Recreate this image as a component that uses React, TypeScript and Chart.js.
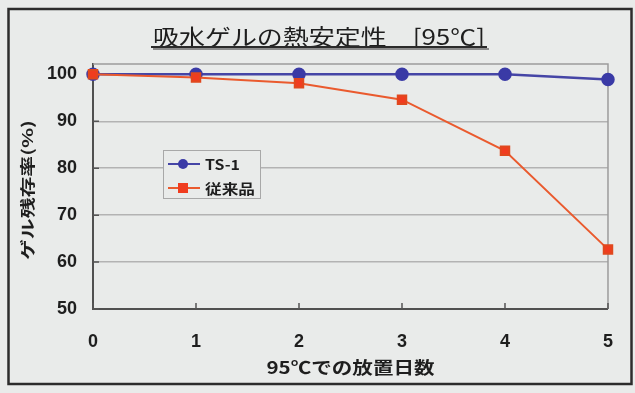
import React, { useEffect, useRef } from "react";
import { Chart, registerables } from "chart.js";

Chart.register(...registerables);

// Days kept at 95℃
const days = [0, 1, 2, 3, 4, 5];
// Remaining gel ratio (%)
const ts1Values = [100, 100, 100, 100, 100, 98.9];
const conventionalValues = [100, 99.3, 98.1, 94.6, 83.7, 62.7];
// Axis ticks
const yTicks = [50, 60, 70, 80, 90, 100];
const xTicks = [0, 1, 2, 3, 4, 5];

const seriesNames = ["TS-1", "従来品"];
const titleText = "吸水ゲルの熱安定性　[95℃]";
const xTitleText = "95℃での放置日数";
const yTitleText = "ゲル残存率(%)";

const BG = "#e9ebea";
const TEXT = "#1e1e1e";
const BLUE_LINE = "#4545a6";
const BLUE_POINT = "#3a3aa6";
const RED_LINE = "#ea5a2e";
const RED_POINT = "#f03c1f";
const JP = "'Noto Sans CJK JP', 'Noto Sans', sans-serif";
const NUM = "'Liberation Sans Narrow', 'Liberation Sans', Arial, sans-serif";

// Draws text centred on (cx, cy), stretched horizontally to the given width.
function fitText(ctx: CanvasRenderingContext2D, text: string, cx: number, cy: number, width: number) {
  const w = ctx.measureText(text).width;
  ctx.save();
  ctx.translate(cx, cy);
  ctx.scale(width / w, 1);
  ctx.textAlign = "center";
  ctx.fillText(text, 0, 0);
  ctx.restore();
}

const decorPlugin = {
  id: "decor",
  beforeDraw(chart: any) {
    const { ctx, width, height } = chart;
    ctx.save();
    ctx.fillStyle = BG;
    ctx.fillRect(0, 0, width, height);
    // outer frame
    ctx.strokeStyle = "#2c2c2c";
    ctx.lineWidth = 2.5;
    ctx.strokeRect(8.5, 9, 623, 375);
    ctx.restore();
  },
  beforeDatasetsDraw(chart: any) {
    const { ctx, chartArea } = chart;
    const xs = chart.scales.x;
    const ys = chart.scales.y;
    ctx.save();
    // plot frame (top and right)
    ctx.strokeStyle = "#9c9c9c";
    ctx.lineWidth = 1.5;
    ctx.beginPath();
    ctx.moveTo(chartArea.left, chartArea.top);
    ctx.lineTo(chartArea.right, chartArea.top);
    ctx.lineTo(chartArea.right, chartArea.bottom);
    ctx.stroke();
    // inner tick marks
    ctx.strokeStyle = "#555";
    ctx.lineWidth = 1.5;
    ctx.beginPath();
    for (const v of xTicks) {
      const px = xs.getPixelForValue(v);
      ctx.moveTo(px, chartArea.bottom);
      ctx.lineTo(px, chartArea.bottom - 6);
    }
    for (const v of yTicks) {
      const py = ys.getPixelForValue(v);
      ctx.moveTo(chartArea.left, py);
      ctx.lineTo(chartArea.left + 6, py);
    }
    ctx.stroke();
    ctx.restore();
  },
  afterDraw(chart: any) {
    const { ctx, chartArea } = chart;
    ctx.save();
    ctx.fillStyle = TEXT;
    ctx.textBaseline = "middle";

    // title with shadowed underline
    ctx.font = `400 22px ${JP}`;
    fitText(ctx, titleText, 319, 37, 332);
    ctx.fillStyle = "#8c8c8c";
    ctx.fillRect(153, 48, 336, 2);
    ctx.fillStyle = "#2a2a2a";
    ctx.fillRect(151, 46, 336, 2);

    // axis titles
    ctx.fillStyle = TEXT;
    ctx.font = `700 17px ${JP}`;
    fitText(ctx, xTitleText, (chartArea.left + chartArea.right) / 2, 368, 168);
    ctx.save();
    ctx.translate(27, 190);
    ctx.rotate(-Math.PI / 2);
    ctx.font = `700 15px ${JP}`;
    fitText(ctx, yTitleText, 0, 0, 140);
    ctx.restore();

    // legend
    const lx = 163, ly = 150, lw = 97, lh = 48;
    ctx.fillStyle = BG;
    ctx.fillRect(lx, ly, lw, lh);
    ctx.strokeStyle = "#a8a8a8";
    ctx.lineWidth = 1;
    ctx.strokeRect(lx + 0.5, ly + 0.5, lw, lh);
    const rows = [
      { name: seriesNames[0], y: 164, line: BLUE_LINE, point: BLUE_POINT, shape: "circle", w: 35 },
      { name: seriesNames[1], y: 188, line: RED_LINE, point: RED_POINT, shape: "rect", w: 50 },
    ];
    for (const r of rows) {
      ctx.strokeStyle = r.line;
      ctx.lineWidth = 2;
      ctx.beginPath();
      ctx.moveTo(168, r.y);
      ctx.lineTo(200, r.y);
      ctx.stroke();
      ctx.fillStyle = r.point;
      if (r.shape === "circle") {
        ctx.beginPath();
        ctx.arc(183, r.y, 5, 0, Math.PI * 2);
        ctx.fill();
      } else {
        ctx.fillRect(178, r.y - 5, 10, 10);
      }
      ctx.fillStyle = TEXT;
      ctx.font = `700 14px ${JP}`;
      fitText(ctx, r.name, 205 + r.w / 2, r.y + 1, r.w);
    }
    ctx.restore();
  },
};

export default function App() {
  const canvasRef = useRef<HTMLCanvasElement | null>(null);

  useEffect(() => {
    const canvas = canvasRef.current;
    if (!canvas) return;
    const chart = new Chart(canvas, {
      type: "line",
      data: {
        datasets: [
          {
            label: seriesNames[0],
            data: days.map((d, i) => ({ x: d, y: ts1Values[i] })),
            borderColor: BLUE_LINE,
            backgroundColor: BLUE_POINT,
            pointBackgroundColor: BLUE_POINT,
            pointBorderColor: BLUE_POINT,
            pointStyle: "circle",
            pointRadius: 5.5,
            borderWidth: 2.5,
            tension: 0,
            clip: false,
            order: 1,
          },
          {
            label: seriesNames[1],
            data: days.map((d, i) => ({ x: d, y: conventionalValues[i] })),
            borderColor: RED_LINE,
            backgroundColor: RED_POINT,
            pointBackgroundColor: RED_POINT,
            pointBorderColor: "#e0481e",
            pointStyle: "rect",
            pointRadius: 6,
            borderWidth: 2,
            tension: 0,
            clip: false,
            order: 0,
          },
        ],
      },
      options: {
        responsive: false,
        animation: false,
        devicePixelRatio: 1,
        layout: { padding: { left: 0, top: 64, right: 23, bottom: 0 } },
        plugins: {
          legend: { display: false },
          title: { display: false },
          tooltip: { enabled: false },
        },
        scales: {
          x: {
            type: "linear",
            min: 0,
            max: 5,
            afterBuildTicks: (scale: any) => {
              scale.ticks = xTicks.map((v) => ({ value: v }));
            },
            afterFit: (scale: any) => {
              scale.height = 84;
            },
            grid: { display: false, drawTicks: false },
            border: { display: true, color: "#505050", width: 2 },
            ticks: {
              padding: 22,
              color: TEXT,
              font: { family: NUM, size: 18, weight: "bold" },
              maxRotation: 0,
            },
          },
          y: {
            min: 50,
            max: 102.2,
            afterBuildTicks: (scale: any) => {
              scale.ticks = yTicks.map((v) => ({ value: v }));
            },
            afterFit: (scale: any) => {
              scale.width = 93;
            },
            grid: {
              drawTicks: false,
              color: (c: any) =>
                c.tick && (c.tick.value === 50 || c.tick.value === 100) ? "rgba(0,0,0,0)" : "#b3b3b3",
              lineWidth: 1.5,
            },
            border: { display: true, color: "#505050", width: 2 },
            ticks: {
              padding: 16,
              color: TEXT,
              font: { family: NUM, size: 18, weight: "bold" },
            },
          },
        },
      },
      plugins: [decorPlugin],
    });
    return () => chart.destroy();
  }, []);

  return (
    <div style={{ position: "fixed", left: 0, top: 0, width: 635, height: 393, background: BG }}>
      <canvas ref={canvasRef} width={635} height={393} style={{ display: "block" }} />
    </div>
  );
}
